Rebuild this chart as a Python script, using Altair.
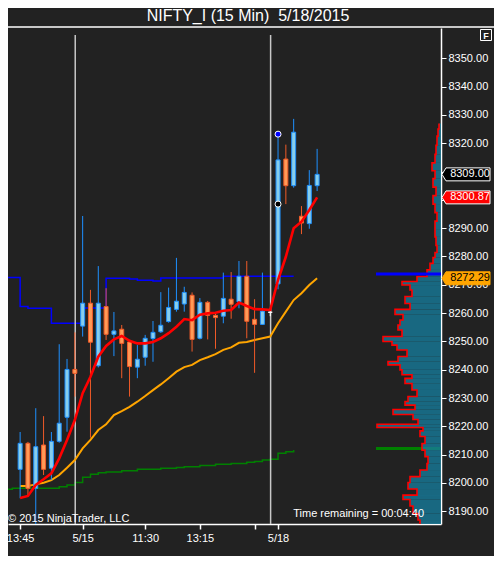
import altair as alt
import pandas as pd

FONT = "Liberation Sans"
BG = "#222222"

# ---------------- data ----------------
bar_index = list(range(39))
open_ = [8204.8, 8214.0, 8198.1, 8213.4, 8205.2, 8214.7, 8223.2, 8240.1, 8255.4, 8263.5,
         8241.4, 8262.3, 8252.5, 8254.3, 8249.8, 8240.9, 8244.4, 8251.0, 8253.4, 8257.0,
         8261.3, 8263.2, 8266.3, 8251.1, 8263.8, 8259.2, 8258.9, 8264.9, 8264.0, 8273.0,
         8257.8, 8256.0, 8260.3, 8270.3, 8314.4, 8305.0, 8294.2, 8291.6, 8305.0]
high_ = [8218.0, 8214.5, 8226.4, 8223.6, 8218.0, 8249.0, 8243.8, 8253.2, 8294.3, 8268.2,
         8276.6, 8268.8, 8260.4, 8255.8, 8250.5, 8248.7, 8252.3, 8257.2, 8267.4, 8269.0,
         8279.5, 8269.3, 8267.3, 8265.3, 8264.3, 8259.9, 8274.3, 8274.5, 8278.4, 8278.4,
         8264.9, 8274.3, 8261.6, 8323.2, 8319.5, 8328.6, 8297.8, 8310.5, 8318.0]
low_ = [8194.6, 8195.7, 8185.0, 8202.8, 8201.0, 8214.2, 8218.1, 8230.5, 8251.7, 8216.0,
        8240.8, 8250.5, 8244.8, 8237.0, 8230.5, 8237.0, 8241.4, 8242.8, 8253.0, 8256.6,
        8260.5, 8260.5, 8246.4, 8250.7, 8250.7, 8247.4, 8256.4, 8258.0, 8261.7, 8251.1,
        8238.9, 8255.8, 8258.9, 8268.4, 8298.5, 8304.3, 8287.9, 8289.8, 8303.1]
close_ = [8214.0, 8198.1, 8212.8, 8204.8, 8214.7, 8221.1, 8240.1, 8238.7, 8263.5, 8249.7,
          8263.5, 8252.5, 8253.7, 8249.3, 8241.1, 8243.7, 8251.1, 8253.2, 8255.7, 8262.0,
          8264.2, 8267.3, 8250.7, 8263.8, 8259.2, 8258.4, 8265.2, 8263.1, 8273.0, 8257.1,
          8256.0, 8260.7, 8260.3, 8314.1, 8305.0, 8323.9, 8291.8, 8305.1, 8309.0]

ema_fast = [8194.7, 8195.4, 8199.3, 8201.3, 8203.4, 8208.7, 8215.2, 8222.2, 8231.7, 8237.5,
            8244.6, 8248.4, 8250.7, 8251.9, 8250.2, 8249.3, 8249.3, 8249.8, 8251.1, 8252.9,
            8255.2, 8257.9, 8257.5, 8259.4, 8259.9, 8260.1, 8260.8, 8261.1, 8263.7, 8262.5,
            8261.4, 8261.3, 8261.1, 8271.7, 8279.9, 8290.0, 8292.3, 8296.4, 8300.87]
ema_slow = [8198.9, 8198.9, 8199.5, 8200.1, 8201.0, 8202.8, 8205.4, 8208.1, 8212.2, 8215.2,
            8218.7, 8220.7, 8224.0, 8225.4, 8226.9, 8228.7, 8230.7, 8232.8, 8234.8, 8237.0,
            8239.3, 8240.9, 8241.7, 8243.4, 8244.4, 8245.5, 8247.0, 8247.9, 8249.5, 8249.8,
            8250.5, 8251.1, 8251.7, 8256.4, 8260.5, 8264.6, 8267.0, 8269.9, 8272.29]

blue_step_i = [-2, 0, 1, 4, 8, 11, 14, 15, 17, 18, 26, 35]
blue_step_v = [8272.6, 8262.3, 8261.7, 8256.4, 8261.8, 8272.3, 8272.0, 8271.6, 8271.3, 8272.4,
               8273.0, 8273.0]

green_step_i = [-2, -1, 5, 6, 7, 8, 9, 10, 11, 13, 15, 18, 20, 21, 23, 25, 27, 29, 30, 31,
                32, 33, 34, 35]
green_step_v = [8197.8, 8198.1, 8198.7, 8199.3, 8200.2, 8202.0, 8203.1, 8203.6, 8203.9, 8204.3,
                8204.8, 8205.2, 8205.5, 8205.7, 8206.2, 8206.6, 8206.9, 8207.3, 8207.6, 8208.1,
                8208.4, 8210.5, 8211.0, 8211.6]

session_breaks = [7.05, 32.05]
tick_pos = [0, 8, 16, 23, 30, 33]
tick_lab = ["13:45", "5/15", "11:30", "13:15", "", "5/18"]
price_ticks = list(range(8190, 8351, 10))
hidden_price_labels = [8300, 8310]   # fully covered by the price tags in the original

marker_i = [33, 33]
marker_v = [8323.2, 8298.5]
marker_fill = ["#0000FF", "#000000"]

tag_price = [8309.00, 8300.87, 8272.29]
tag_fill = ["#000000", "#FF0000", "#FFA500"]
tag_stroke = ["#FFFFFF", "#FFFFFF", "#FFA500"]
tag_text = ["#FFFFFF", "#FFFFFF", "#000000"]

# volume profile (price level, relative volume)
prof_price = [8326.0, 8324.0, 8321.0, 8317.6, 8314.5, 8311.6, 8309.0, 8306.0, 8303.0, 8300.0,
              8297.0, 8294.0, 8291.0, 8288.3, 8285.5, 8282.3, 8280.5, 8278.8, 8276.3, 8274.2,
              8271.7, 8270.6, 8269.2, 8267.1, 8264.6, 8262.2, 8260.4, 8258.6, 8256.5, 8255.1,
              8253.0, 8250.5, 8249.4, 8248.0, 8245.9, 8243.4, 8242.4, 8241.0, 8238.9, 8237.5,
              8236.4, 8233.9, 8231.8, 8229.3, 8228.2, 8226.8, 8225.1, 8223.3, 8221.5, 8220.0,
              8219.2, 8217.6, 8215.2, 8212.7, 8210.5, 8208.1, 8205.6, 8203.5, 8201.0, 8199.3,
              8196.4, 8195.0, 8193.3, 8190.4, 8188.0, 8185.8]
prof_vol = [2, 3, 4, 5, 6, 9, 6, 8, 5, 8,
            6, 4, 6, 6, 5, 4, 6, 8, 11, 14,
            24, 39, 31, 29, 36, 31, 46, 38, 41, 43,
            39, 58, 49, 44, 34, 43, 53, 41, 39, 29,
            36, 29, 24, 33, 36, 26, 48, 28, 23, 64,
            18, 21, 16, 19, 16, 13, 14, 21, 31, 33,
            24, 38, 31, 28, 23, 21]
level_price = [8273.8, 8212.2]
level_color = ["#0000FF", "#008000"]

title_text = "NIFTY_I (15 Min)\u00a0 5/18/2015"
copyright_text = "\u00a9 2015 NinjaTrader, LLC"
remaining_text = "Time remaining = 00:04:40"

# ---------------- tables ----------------
W, H = 433, 496
cdf = pd.DataFrame({"i": bar_index, "o": open_, "h": high_, "l": low_, "c": close_,
                    "ef": ema_fast, "es": ema_slow})
cdf["dir"] = ["up" if c > o else ("down" if c < o else "doji") for o, c in zip(open_, close_)]

bdf = pd.DataFrame({"i": blue_step_i, "v": blue_step_v})
gdf = pd.DataFrame({"i": green_step_i, "v": green_step_v})
sdf = pd.DataFrame({"i": session_breaks})
mdf = pd.DataFrame({"i": marker_i, "v": marker_v, "f": marker_fill})
tdf = pd.DataFrame({"price": tag_price, "fill": tag_fill, "stroke": tag_stroke, "tc": tag_text})
ldf = pd.DataFrame({"price": level_price, "col": level_color})

p = prof_price
n = len(p)
hi = [p[0] + (p[0] - p[1]) / 2] + [(p[k - 1] + p[k]) / 2 for k in range(1, n)]
lo = [(p[k] + p[k + 1]) / 2 for k in range(n - 1)] + [p[-1] - (p[-2] - p[-1]) / 2]
pdf = pd.DataFrame({"vol": prof_vol, "hi": hi, "lo": lo, "z": 0})
outline = []
for k in range(n):
    outline.append({"seq": 2 * k, "vol": prof_vol[k], "y": hi[k]})
    outline.append({"seq": 2 * k + 1, "vol": prof_vol[k], "y": lo[k]})
odf = pd.DataFrame(outline)
one = pd.DataFrame({"a": [0]})

# ---------------- scales & axes ----------------
xs = alt.Scale(domain=[-0.9125, 53.2125], nice=False, zero=False)
ys = alt.Scale(domain=[8185.5, 8360.7], nice=False, zero=False)
vs = alt.Scale(domain=[0, 65], range=[W, W - 65], nice=False, zero=False)

label_expr = "".join(f"datum.value == {q} ? '{t}' : " for q, t in zip(tick_pos, tick_lab)) + "''"
ylabel_expr = "".join(f"datum.value == {q} ? '' : " for q in hidden_price_labels) + "format(datum.value, '.2f')"
xaxis = alt.Axis(values=tick_pos, labelExpr=label_expr, title=None, grid=False,
                 domainColor="#FFFFFF", domainWidth=1.5, tickColor="#FFFFFF", tickWidth=1.5,
                 tickSize=5, labelColor="#FFFFFF", labelFontSize=11, labelFont=FONT,
                 labelPadding=3, labelFlush=10, labelFlushOffset=7, labelOverlap=False)
yaxis = alt.Axis(orient="right", values=price_ticks, labelExpr=ylabel_expr, title=None, grid=False,
                 domainColor="#FFFFFF", domainWidth=1.5, tickColor="#FFFFFF", tickWidth=1,
                 tickSize=5, labelColor="#FFFFFF", labelFontSize=11, labelFont=FONT,
                 labelPadding=2, labelFlush=False, labelOverlap=False)

X = lambda f: alt.X(f, scale=xs, axis=xaxis)
Y = lambda f: alt.Y(f, scale=ys, axis=yaxis)
dir_dom = ["up", "down", "doji"]
line_col = alt.Scale(domain=dir_dom, range=["#1E90FF", "#F05A28", "#FFFFFF"])
fill_col = alt.Scale(domain=dir_dom, range=["#87CEEB", "#FF9A57", "#FFFFFF"])

green = alt.Chart(gdf).mark_line(color="#008000", strokeWidth=1.5, interpolate="step-after",
                                 clip=True).encode(x=X("i:Q"), y=Y("v:Q"))
blue = alt.Chart(bdf).mark_line(color="#0000FF", strokeWidth=1.5, interpolate="step-after",
                                clip=True).encode(x=X("i:Q"), y=Y("v:Q"))
sess = alt.Chart(sdf).mark_rule(color="#C8C8C8", strokeWidth=1.5).encode(
    x=X("i:Q"), y=alt.value(7), y2=alt.value(H))
slow = alt.Chart(cdf).mark_line(color="#FFA500", strokeWidth=2, clip=True).encode(
    x=X("i:Q"), y=Y("es:Q"))
wick = alt.Chart(cdf).mark_rule(strokeWidth=1, clip=True).encode(
    x=X("i:Q"), y=Y("l:Q"), y2="h:Q",
    color=alt.Color("dir:N", scale=line_col, legend=None))
body = alt.Chart(cdf).mark_bar(size=4, strokeWidth=1, clip=True).encode(
    x=X("i:Q"), y=Y("o:Q"), y2="c:Q",
    fill=alt.Fill("dir:N", scale=fill_col, legend=None),
    stroke=alt.Stroke("dir:N", scale=line_col, legend=None))
fast = alt.Chart(cdf).mark_line(color="#FF0000", strokeWidth=2.6, clip=True).encode(
    x=X("i:Q"), y=Y("ef:Q"))
marks = alt.Chart(mdf).mark_point(filled=True, size=36, stroke="#FFFFFF", strokeWidth=1,
                                  opacity=1).encode(
    x=X("i:Q"), y=Y("v:Q"), fill=alt.Fill("f:N", scale=None))

main = alt.layer(green, blue, sess, slow, wick, body, fast, marks)

# volume profile on its own horizontal scale
g_level = alt.Chart(ldf).transform_filter(alt.datum.col == "#008000").mark_rule(
    color="#008000", strokeWidth=3).encode(x=alt.value(W - 65), x2=alt.value(W), y=Y("price:Q"))
prof_rect = alt.Chart(pdf).mark_rect(color="#167A9A", opacity=0.8, clip=True).encode(
    x=alt.X("vol:Q", scale=vs, axis=None), x2="z:Q", y=Y("hi:Q"), y2="lo:Q")
prof_line = alt.Chart(odf).mark_line(color="#FF0000", strokeWidth=1.6, clip=True).encode(
    x=alt.X("vol:Q", scale=vs, axis=None), y=Y("y:Q"), order=alt.Order("seq:Q"))
b_level = alt.Chart(ldf).transform_filter(alt.datum.col == "#0000FF").mark_rule(
    color="#0000FF", strokeWidth=3).encode(x=alt.value(W - 65), x2=alt.value(W), y=Y("price:Q"))
profile = alt.layer(g_level, prof_rect, prof_line, b_level)

# annotations
tag_path = "M-1,0L-0.833,-0.27L1,-0.27L1,0.27L-0.833,0.27Z"
tags = alt.Chart(tdf).mark_point(shape=tag_path, size=2304, filled=True, strokeWidth=1,
                                 opacity=1).encode(
    x=alt.value(458), y=Y("price:Q"),
    fill=alt.Fill("fill:N", scale=None), stroke=alt.Stroke("stroke:N", scale=None))
tag_txt = alt.Chart(tdf).mark_text(fontSize=11, font=FONT, align="center", baseline="middle").encode(
    x=alt.value(462), y=Y("price:Q"), text=alt.Text("price:Q", format=".2f"),
    color=alt.Color("tc:N", scale=None))
top_rule = alt.Chart(one).mark_rule(color="#FFFFFF", strokeWidth=1.5).encode(
    x=alt.value(0), x2=alt.value(486), y=alt.value(-1))
fbox = alt.Chart(one).mark_point(shape="square", size=121, filled=True, fill=BG,
                                 stroke="#FFFFFF", strokeWidth=1, opacity=1).encode(
    x=alt.value(478), y=alt.value(7))
ftxt = alt.Chart(one).mark_text(text="F", fontSize=9, fontWeight="bold", font=FONT,
                                color="#FFFFFF", align="center", baseline="middle").encode(
    x=alt.value(478), y=alt.value(7.5))
title_txt = alt.Chart(one).mark_text(text=title_text, fontSize=16, font=FONT, color="#FFFFFF",
                                     align="center", baseline="alphabetic").encode(
    x=alt.value(240), y=alt.value(-7))
copy_txt = alt.Chart(one).mark_text(text=copyright_text, fontSize=11, font=FONT, color="#FFFFFF",
                                    align="left", baseline="alphabetic").encode(
    x=alt.value(0), y=alt.value(493.5))
rem_txt = alt.Chart(one).mark_text(text=remaining_text, fontSize=11, font=FONT, color="#FFFFFF",
                                   align="right", baseline="alphabetic").encode(
    x=alt.value(416), y=alt.value(488.5))
annot = alt.layer(tags, tag_txt, top_rule, fbox, ftxt, title_txt, copy_txt, rem_txt)

chart = alt.layer(main, profile, annot).resolve_scale(x="independent").properties(
    width=W, height=H,
    autosize=alt.AutoSizeParams(type="none"),
    padding={"left": 0, "top": 20, "right": 53, "bottom": 32},
    background=BG,
).configure_view(stroke=None, fill=BG)

chart.save("out.html", embed_options={"renderer": "svg", "actions": False})
